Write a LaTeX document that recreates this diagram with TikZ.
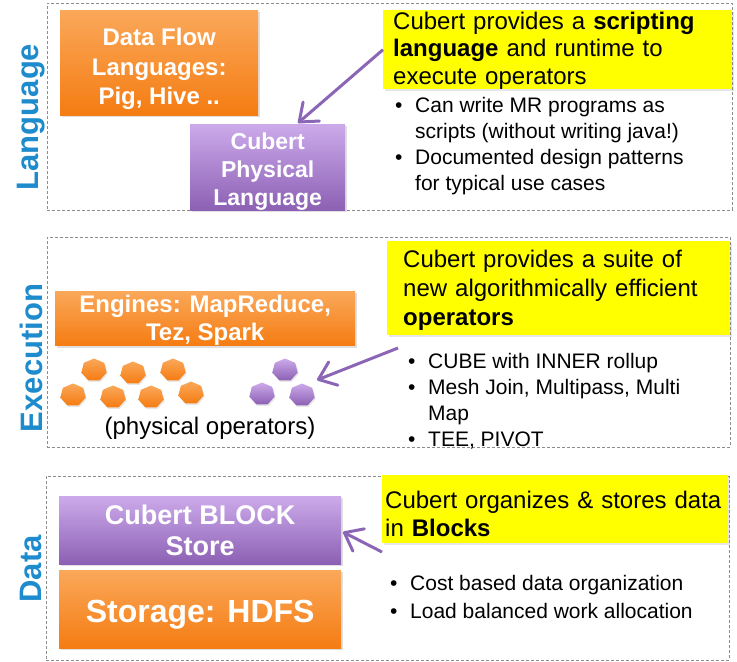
\documentclass[tikz,border=0pt]{standalone}
\usepackage{fontspec}
\setmainfont{Liberation Sans}
\usetikzlibrary{arrows.meta,shadows}
\definecolor{ortop}{RGB}{250,168,90}
\definecolor{orbot}{RGB}{245,124,18}
\definecolor{putop}{RGB}{204,170,234}
\definecolor{pubot}{RGB}{140,96,180}
\definecolor{lblue}{RGB}{30,139,205}
\definecolor{arrc}{RGB}{140,102,182}
\definecolor{dashc}{RGB}{140,140,140}
\definecolor{yel}{RGB}{255,255,0}
\newcommand\bul{\makebox[20bp][l]{\textbullet}}
\newcommand\ind{\hspace*{20bp}}
\newcommand\lift[1]{\rule{0pt}{#1}}
\begin{document}
\begin{tikzpicture}[x=1bp,y=-1bp,
 panel/.style={draw=dashc, line width=0.8bp, dash pattern=on 3bp off 2bp, anchor=north west, inner sep=0},
 side/.style={rotate=90, text=lblue, font=\bfseries\fontsize{31bp}{31bp}\selectfont, inner sep=0},
 sbox/.style={anchor=north west, inner sep=0, align=center, text=white,
   drop shadow={opacity=0.25, shadow xshift=1.5bp, shadow yshift=-2bp}},
 obox/.style={sbox, top color=ortop, bottom color=orbot},
 pbox/.style={sbox, top color=putop, bottom color=pubot},
 ybox/.style={anchor=north west, fill=yel, inner ysep=0, align=left,
   font=\fontsize{24bp}{27.5bp}\selectfont,
   drop shadow={opacity=0.2, shadow xshift=1.5bp, shadow yshift=-2bp}},
 blist/.style={anchor=north west, inner sep=0, align=left},
 arr/.style={draw=arrc, line width=3bp, -{Straight Barb[length=16bp,width=25bp,round]}},
 ohept/.pic={\path[top color=ortop, bottom color=orbot,
   drop shadow={opacity=0.2, shadow xshift=1bp, shadow yshift=-1.5bp}]
   (-90:13 and 11.5) \foreach \k in {1,...,6}{ -- ({-90+\k*360/7}:13 and 11.5)} -- cycle;},
 phept/.pic={\path[top color=putop, bottom color=pubot,
   drop shadow={opacity=0.2, shadow xshift=1bp, shadow yshift=-1.5bp}]
   (-90:13 and 11.5) \foreach \k in {1,...,6}{ -- ({-90+\k*360/7}:13 and 11.5)} -- cycle;},
]
\useasboundingbox (0,0) rectangle (737,662);

% panels
\node[panel, minimum width=685bp, minimum height=207bp] (lpanel) at (47,3) {};
\node[panel, minimum width=683bp, minimum height=210bp] (epanel) at (47,237) {};
\node[panel, minimum width=683bp, minimum height=184bp] (dpanel) at (46,476) {};

% side labels
\node[side] (llab) at (31,117) {Language};
\node[side] (elab) at (31,358) {Execution};
\node[side] (dlab) at (31,569) {Data};

% ---- Language ----
\node[obox, minimum width=198bp, minimum height=105bp,
  font=\bfseries\fontsize{24bp}{29.5bp}\selectfont] (dfl) at (60,10)
  {\lift{30bp}Data Flow\\Languages:\\Pig, Hive ..};
\node[pbox, minimum width=155bp, minimum height=86bp,
  font=\bfseries\fontsize{23bp}{28bp}\selectfont] (cpl) at (190,124)
  {\lift{25bp}Cubert\\Physical\\Language};
\node[ybox, text width=329bp, inner xsep=10bp, minimum height=77bp] (lyel) at (383,10)
  {\lift{19bp}Cubert provides a \textbf{scripting}\\\textbf{language} and runtime to\\execute operators};
\node[blist, font=\fontsize{21bp}{26bp}\selectfont] (lbul) at (395,97)
  {\bul Can write MR programs as\\\ind scripts (without writing java!)\\\bul Documented design patterns\\\ind for typical use cases};
\coordinate (lend) at (298,123);
\draw[arr] (lyel.west) -- (lend);

% ---- Execution ----
\node[obox, minimum width=300bp, minimum height=51bp,
  font=\bfseries\fontsize{24bp}{28bp}\selectfont] (eng) at (55,291)
  {\lift{21.5bp}Engines: MapReduce,\\Tez, Spark};
\pic at (94,370) {ohept};
\pic at (133,373) {ohept};
\pic at (173,370) {ohept};
\pic at (73,395) {ohept};
\pic at (113,397) {ohept};
\pic at (151,397) {ohept};
\pic at (191,393) {ohept};
\pic at (285,370) {phept};
\pic at (262,394) {phept};
\pic at (302,395) {phept};
\node[font=\fontsize{24bp}{28bp}\selectfont, inner sep=0] (phys) at (210,428) {(physical operators)};
\node[ybox, text width=311bp, inner xsep=16bp, minimum height=94bp,
  font=\fontsize{24bp}{29bp}\selectfont] (eyel) at (387,241)
  {\lift{21bp}Cubert provides a suite of\\new algorithmically efficient\\\textbf{operators}};
\node[blist, font=\fontsize{21bp}{26bp}\selectfont] (ebul) at (408,353)
  {\bul CUBE with INNER rollup\\\bul Mesh Join, Multipass, Multi\\\ind Map\\\bul TEE, PIVOT};
\coordinate (estart) at (398,348);
\coordinate (eend) at (317,380);
\draw[arr] (estart) -- (eend);

% ---- Data ----
\node[pbox, minimum width=282bp, minimum height=68bp,
  font=\bfseries\fontsize{27bp}{31bp}\selectfont] (cbs) at (59,496)
  {Cubert BLOCK\\Store};
\node[obox, minimum width=282bp, minimum height=78bp,
  font=\bfseries\fontsize{32bp}{36bp}\selectfont] (hdfs) at (59,570)
  {\lift{33bp}Storage: HDFS};
\node[ybox, text width=340bp, inner xsep=3bp, minimum height=68bp,
  font=\fontsize{24bp}{28bp}\selectfont] (dyel) at (382,475)
  {\lift{27.5bp}Cubert organizes \& stores data\\in \textbf{Blocks}};
\node[blist, font=\fontsize{21bp}{28bp}\selectfont] (dbul) at (390,575)
  {\bul Cost based data organization\\\bul Load balanced work allocation};
\coordinate (dstart) at (382,552);
\coordinate (dend) at (343,532);
\draw[arr] (dstart) -- (dend);
\end{tikzpicture}
\end{document}
